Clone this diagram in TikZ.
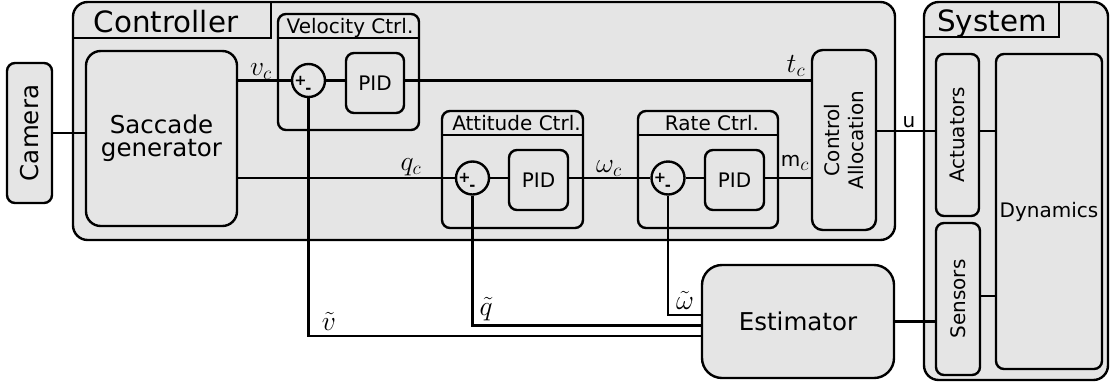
\documentclass[tikz,border=0pt]{standalone}
\usepackage[no-math]{fontspec}
\setmainfont{DejaVu Sans}
\usetikzlibrary{calc}
\definecolor{boxfill}{gray}{0.9}
\newcommand\FBig{\fontsize{22}{26}\selectfont}
\newcommand\FMid{\fontsize{18.4}{17.5}\selectfont}
\newcommand\FSm{\fontsize{15}{17.5}\selectfont}
\newcommand\FMath{\fontsize{20.74}{24}\selectfont}
\begin{document}
\begin{tikzpicture}[x=0.75pt,y=-0.75pt,line width=1.8pt,
  sz/.style 2 args={minimum width={#1*0.75pt},minimum height={#2*0.75pt}},
  blk/.style={draw,fill=boxfill,inner sep=0pt},
  sumc/.style={draw,fill=boxfill,circle,inner sep=0pt,minimum size={33*0.75pt}},
  pm/.style={inner sep=0pt,font=\fontsize{11}{11}\selectfont\bfseries},
  lab/.style={anchor=base,inner sep=0pt,font=\FMath},
  slab/.style={anchor=base,inner sep=0pt,font=\FSm},
  hdr/.style={anchor=base,inner sep=0pt,font=\FSm}]
\useasboundingbox (0,0) rectangle (1110,383);

% ---------- Controller ----------
\node[blk,sz={822}{238},rounded corners=11pt] (ctrl) at (484,121) {};
\coordinate (ctab) at (271,38);
\draw (ctrl.west |- ctab) -- (ctab) -- (ctab |- ctrl.north);
\node[anchor=base,inner sep=0pt,font=\FBig] (ctrlt) at (166,32) {Controller};

% Camera and saccade generator
\node[blk,rotate=90,sz={140}{45},rounded corners=6pt,font=\FMid] (cam) at (29.5,133) {Camera};
\node[blk,sz={151}{175},rounded corners=11pt,align=center,font=\FMid] (sac) at (161.5,138.5) {Saccade\\generator};
\draw (cam.south) -- (cam.south -| sac.west);

% Velocity control
\node[blk,sz={141}{116},rounded corners=6pt] (vel) at (348.5,72) {};
\coordinate (vh) at (0,38);
\draw (vel.west |- vh) -- (vel.east |- vh);
\node[hdr] (velt) at (350,33) {Velocity Ctrl.};
\node[sumc] (s1) at (308.5,80.5) {};
\node[pm] (s1p) at ($(s1)+(-8,0)$) {+};
\node[pm] (s1m) at ($(s1)+(0,10)$) {-};
\node[blk,sz={58}{60},rounded corners=6pt,font=\FSm] (pid1) at (375,83) {PID};

% Control allocation
\node[blk,rotate=90,sz={180}{64},rounded corners=8pt,align=center,font=\FSm] (alloc) at (844,140) {Control\\Allocation};

% Attitude control
\node[blk,sz={141}{117},rounded corners=6pt] (att) at (512.5,169.5) {};
\coordinate (ah) at (0,135);
\draw (att.west |- ah) -- (att.east |- ah);
\node[hdr] (attt) at (516.5,130) {Attitude Ctrl.};
\node[sumc] (s2) at (472.5,178) {};
\node[pm] (s2p) at ($(s2)+(-8,0)$) {+};
\node[pm] (s2m) at ($(s2)+(0,10)$) {-};
\node[blk,sz={59}{60},rounded corners=6pt,font=\FSm] (pid2) at (538.5,180) {PID};

% Rate control
\node[blk,sz={140}{117},rounded corners=6pt] (rate) at (708,169.5) {};
\draw (rate.west |- ah) -- (rate.east |- ah);
\node[hdr] (ratet) at (712,130) {Rate Ctrl.};
\node[sumc] (s3) at (668,178) {};
\node[pm] (s3p) at ($(s3)+(-8,0)$) {+};
\node[pm] (s3m) at ($(s3)+(0,10)$) {-};
\node[blk,sz={59}{60},rounded corners=6pt,font=\FSm] (pid3) at (734.5,180) {PID};

% Controller connectors
\draw (sac.east |- s1) -- (s1.west);
\node[lab] (vc) at (261,75) {$v_c$};
\draw (s1.east) -- (s1.east -| pid1.west);
\draw (pid1.east |- s1) -- (alloc.north |- s1);
\node[lab] (tc) at (796,72) {$t_c$};
\draw (sac.east |- s2) -- (s2.west);
\node[lab] (qc) at (411,170) {$q_c$};
\draw (s2.east) -- (s2.east -| pid2.west);
\draw (pid2.east |- s2) -- (s3.west);
\node[lab] (wc) at (609,172) {$\omega_c$};
\draw (s3.east) -- (s3.east -| pid3.west);
\draw (pid3.east |- s3) -- (alloc.north |- s3);
\node[lab] (mc) at (795,166) {{\FSm m}$_c$};

% ---------- System ----------
\node[blk,sz={184}{378},rounded corners=11pt] (sys) at (1016,191) {};
\coordinate (stab) at (1059,37);
\draw (sys.west |- stab) -- (stab) -- (stab |- sys.north);
\node[anchor=base,inner sep=0pt,font=\FBig] (syst) at (992,31) {System};
\node[blk,rotate=90,sz={162}{43},rounded corners=6pt,font=\FSm] (act) at (957.5,135) {Actuators};
\node[blk,rotate=90,sz={152}{44},rounded corners=6pt,font=\FSm] (sen) at (958,299) {Sensors};
\node[blk,sz={106}{315},rounded corners=6pt,font=\FSm] (dyn) at (1049,211.5) {Dynamics};

\coordinate (uy) at (0,131);
\draw (alloc.south |- uy) -- (act.north |- uy);
\node[slab] (ulab) at (909,127) {u};
\draw (act.south |- uy) -- (dyn.west |- uy);
\coordinate (sy) at (0,296);
\draw (sen.south |- sy) -- (dyn.west |- sy);

% ---------- Estimator ----------
\node[blk,sz={192}{113},rounded corners=15pt,font=\FMid] (est) at (798,321.5) {Estimator};
\draw (est.east) -- (est.east -| sen.north);

\coordinate (fv) at (0,336);
\coordinate (fq) at (0,325.5);
\coordinate (fw) at (0,315);
\draw (s1.south) -- (s1.south |- fv) -- (est.west |- fv);
\draw (s2.south) -- (s2.south |- fq) -- (est.west |- fq);
\draw (s3.south) -- (s3.south |- fw) -- (est.west |- fw);
\node[lab] (vt) at (329,330) {$\tilde v$};
\node[lab] (qt) at (486,315) {$\tilde q$};
\node[lab] (wt) at (685,309) {$\tilde\omega$};
\end{tikzpicture}
\end{document}
